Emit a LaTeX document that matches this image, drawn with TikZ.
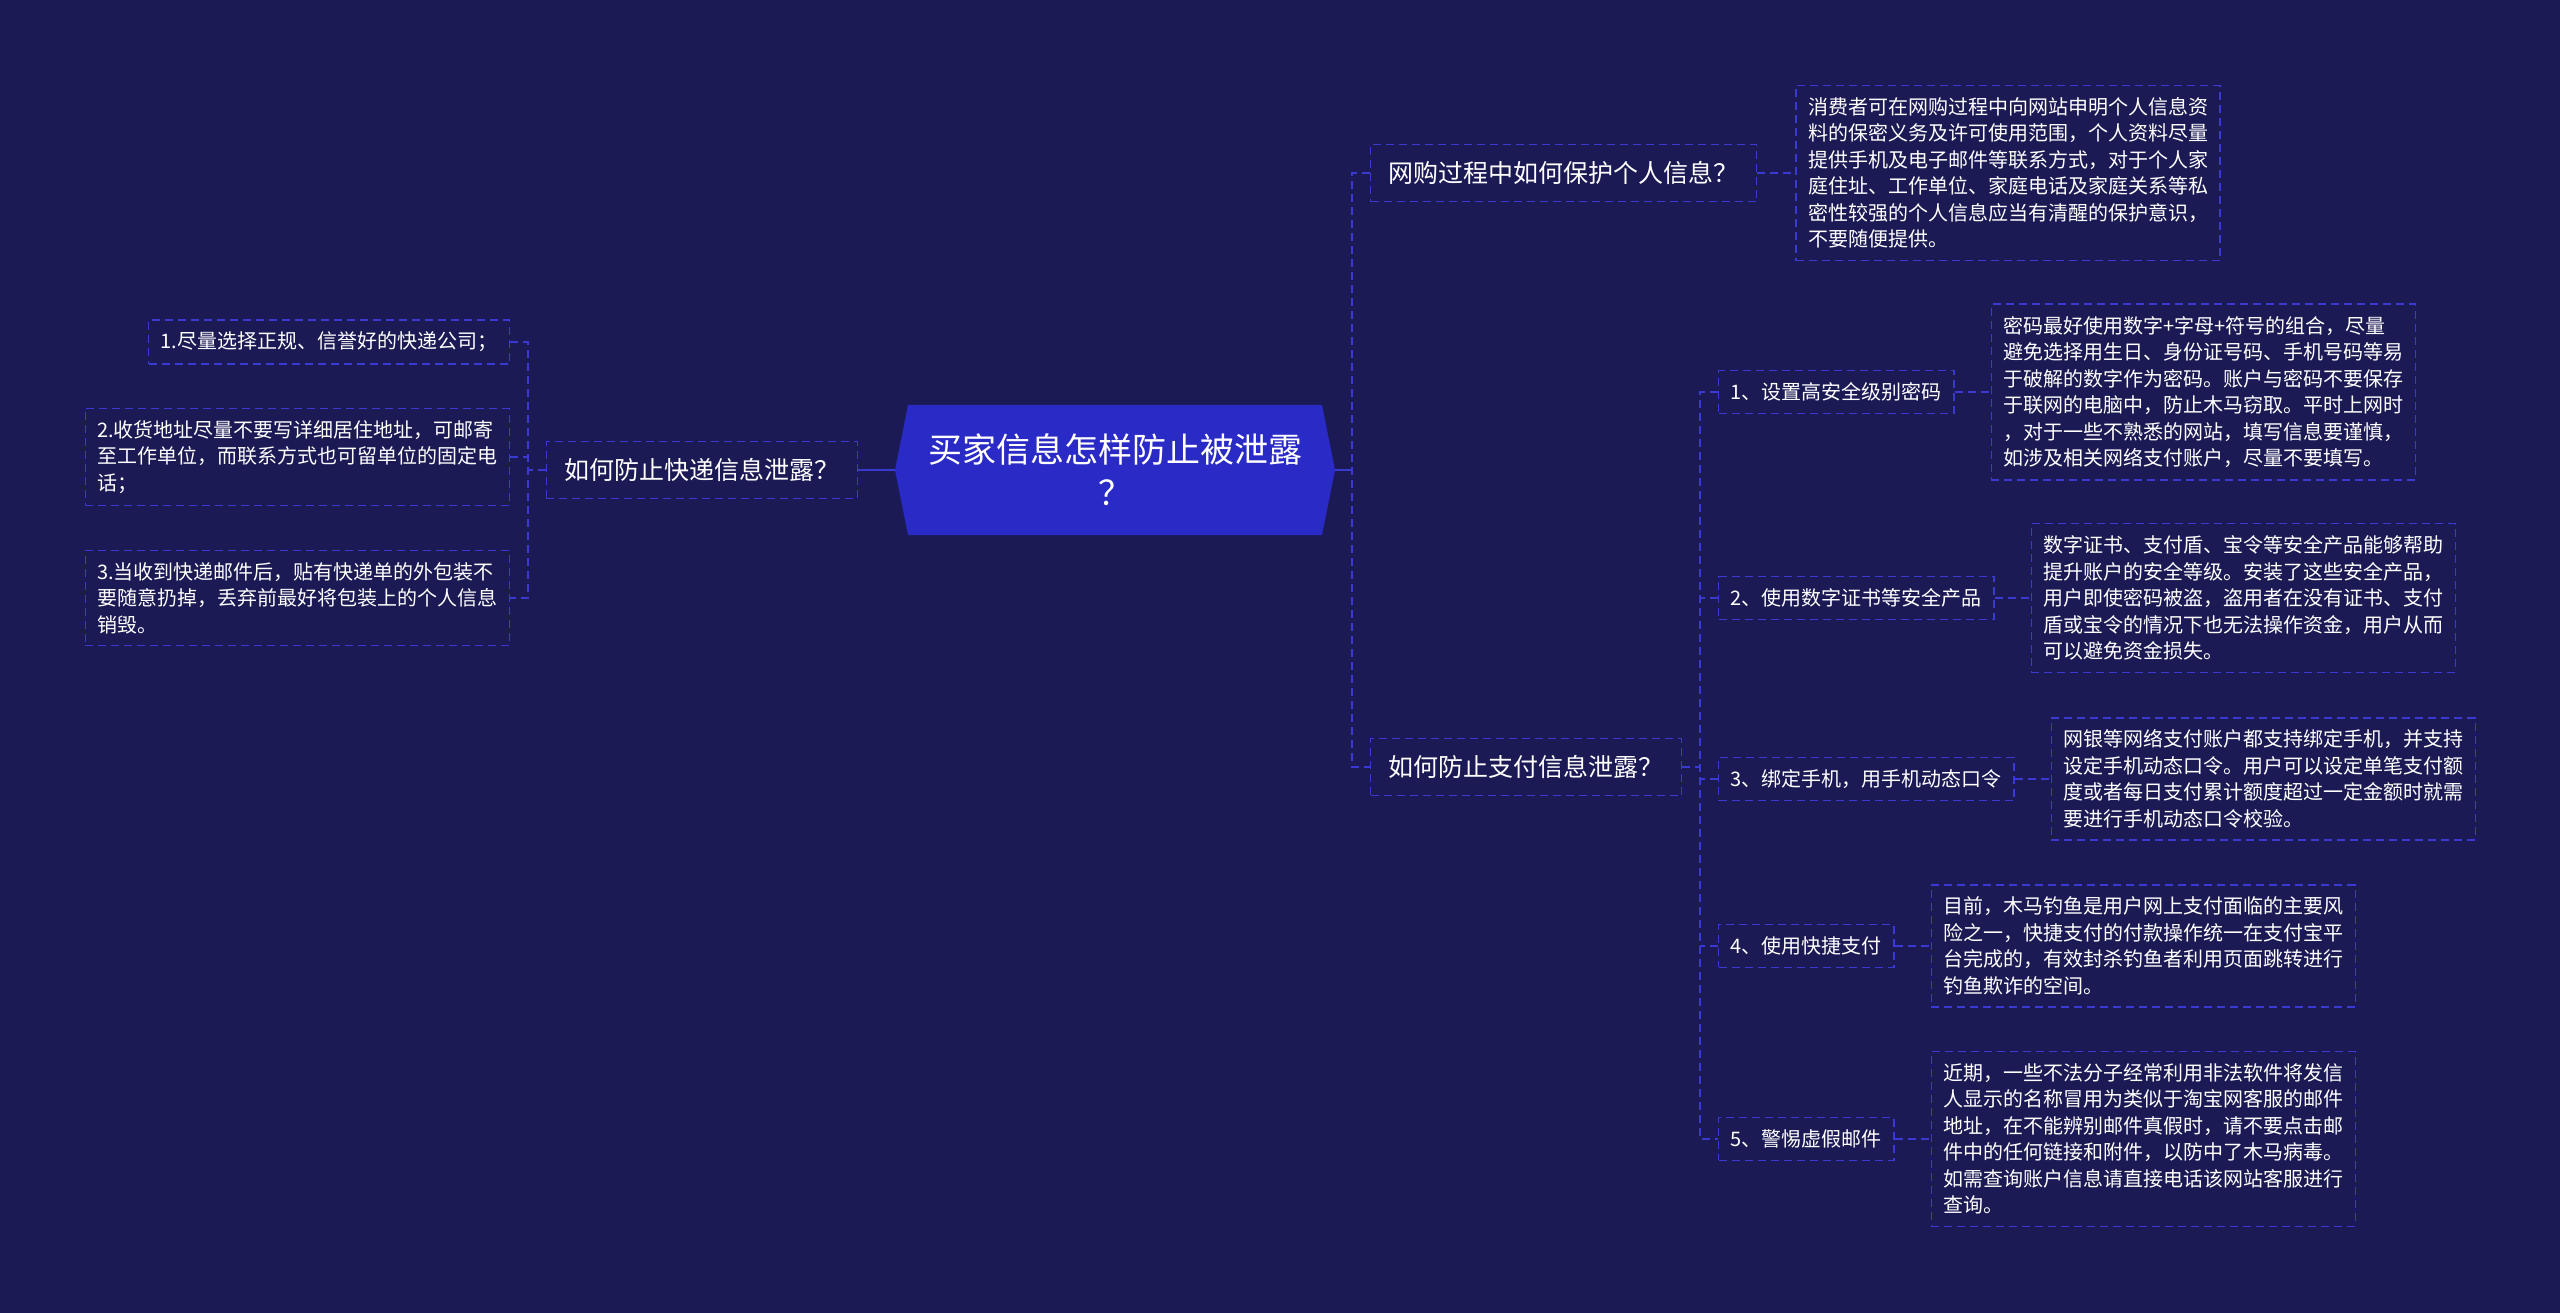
\documentclass[tikz,border=0pt]{standalone}
\usepackage{fontspec}
\usepackage{xcolor}
\usetikzlibrary{positioning}

\newfontfamily\cjk{Noto Sans CJK SC}

\begin{document}
\begin{tikzpicture}[
    x=1pt, y=-1pt,
    font=\cjk,
    link/.style={draw=vline, line width=1.6pt, dash pattern=on 8pt off 5pt},
    solidlink/.style={draw=vline, line width=2.2pt},
    box/.style={draw=vline, line width=1.4pt, dash pattern=on 8pt off 5pt,
        text=white, align=left, inner xsep=12pt, inner ysep=12pt,
        font=\cjk\fontsize{20}{26.5}\selectfont},
    branch/.style={box, inner xsep=18pt, inner ysep=17pt,
        font=\cjk\fontsize{25}{30}\selectfont},
    hubtext/.style={text=white, align=center, inner sep=0pt,
        minimum width=440pt, minimum height=130pt,
        font=\cjk\fontsize{34}{43}\selectfont}
]

\definecolor{bgnavy}{HTML}{1B1A55}
\definecolor{hubblue}{HTML}{2A2AC6}
\definecolor{vline}{HTML}{3A3AD2}

% ==========================================
% 1. PAGE & CENTRAL HEXAGON
% ==========================================

\useasboundingbox (0,0) rectangle (2560,1313);
\fill[bgnavy] (0,0) rectangle (2560,1313);

\fill[hubblue] (895,470) -- (908,405) -- (1322,405) -- (1335,470) -- (1322,535) -- (908,535) -- cycle;
\node[hubtext] (hub) at (1115,470) {买家信息怎样防止被泄露\\？};

% ==========================================
% 2. LEFT BRANCH (express delivery)
% ==========================================

\node[branch, anchor=east] (ship) at (858,470) {如何防止快递信息泄露？};

\node[box, anchor=east] (ship1) at (510,342) {1.尽量选择正规、信誉好的快递公司；};
\node[box, anchor=east] (ship2) at (510,457) {2.收货地址尽量不要写详细居住地址，可邮寄\\至工作单位，而联系方式也可留单位的固定电\\话；};
\node[box, anchor=east] (ship3) at (510,598) {3.当收到快递邮件后，贴有快递单的外包装不\\要随意扔掉，丢弃前最好将包装上的个人信息\\销毁。};

% ==========================================
% 3. RIGHT BRANCHES (online shopping, payment)
% ==========================================

\node[branch, anchor=west] (online) at (1370,173) {网购过程中如何保护个人信息？};
\node[box, right=38pt of online] (onlinedesc) {消费者可在网购过程中向网站申明个人信息资\\料的保密义务及许可使用范围，个人资料尽量\\提供手机及电子邮件等联系方式，对于个人家\\庭住址、工作单位、家庭电话及家庭关系等私\\密性较强的个人信息应当有清醒的保护意识，\\不要随便提供。};

\node[branch, anchor=west] (payment) at (1370,767) {如何防止支付信息泄露？};

\node[box, anchor=west] (pw1) at (1718,392) {1、设置高安全级别密码};
\node[box, anchor=west] (pw2) at (1718,598) {2、使用数字证书等安全产品};
\node[box, anchor=west] (pw3) at (1718,779) {3、绑定手机，用手机动态口令};
\node[box, anchor=west] (pw4) at (1718,946) {4、使用快捷支付};
\node[box, anchor=west] (pw5) at (1718,1139) {5、警惕虚假邮件};

\node[box, right=36pt of pw1] (pd1) {密码最好使用数字+字母+符号的组合，尽量\\避免选择用生日、身份证号码、手机号码等易\\于破解的数字作为密码。账户与密码不要保存\\于联网的电脑中，防止木马窃取。平时上网时\\，对于一些不熟悉的网站，填写信息要谨慎，\\如涉及相关网络支付账户，尽量不要填写。};
\node[box, right=36pt of pw2] (pd2) {数字证书、支付盾、宝令等安全产品能够帮助\\提升账户的安全等级。安装了这些安全产品，\\用户即使密码被盗，盗用者在没有证书、支付\\盾或宝令的情况下也无法操作资金，用户从而\\可以避免资金损失。};
\node[box, right=36pt of pw3] (pd3) {网银等网络支付账户都支持绑定手机，并支持\\设定手机动态口令。用户可以设定单笔支付额\\度或者每日支付累计额度超过一定金额时就需\\要进行手机动态口令校验。};
\node[box, right=36pt of pw4] (pd4) {目前，木马钓鱼是用户网上支付面临的主要风\\险之一，快捷支付的付款操作统一在支付宝平\\台完成的，有效封杀钓鱼者利用页面跳转进行\\钓鱼欺诈的空间。};
\node[box, right=36pt of pw5] (pd5) {近期，一些不法分子经常利用非法软件将发信\\人显示的名称冒用为类似于淘宝网客服的邮件\\地址，在不能辨别邮件真假时，请不要点击邮\\件中的任何链接和附件，以防中了木马病毒。\\如需查询账户信息请直接电话该网站客服进行\\查询。};

% ==========================================
% 4. CONNECTORS
% ==========================================

\coordinate (ljoin) at (528,470);
\coordinate (rjoin) at (1352,470);
\coordinate (pjoin) at (1700,767);

% hub to branches
\draw[solidlink] (hub.west) -- (ship.east);
\draw[solidlink] (hub.east) -- (rjoin);
\draw[link] (online.west) -| (rjoin) |- (payment.west);
\draw[link] (online.east) -- (onlinedesc.west);

% left tree
\draw[link] (ship.west) -- (ljoin);
\draw[link] (ship1.east) -| (ljoin) |- (ship3.east);
\draw[link] (ship2.east) -- (ship2.east -| ljoin);

% payment tree
\draw[link] (payment.east) -- (pjoin);
\draw[link] (pw1.west) -| (pjoin) |- (pw5.west);
\foreach \i in {2,3,4}
    \draw[link] (pw\i.west) -- (pw\i.west -| pjoin);
\foreach \i in {1,...,5}
    \draw[link] (pw\i.east) -- (pd\i.west);

\end{tikzpicture}
\end{document}
